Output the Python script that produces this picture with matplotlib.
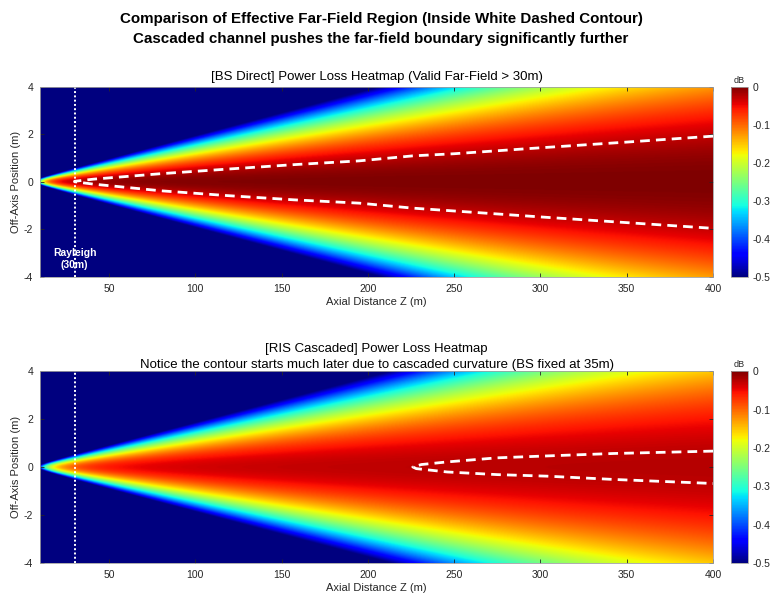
import matplotlib
matplotlib.use('Agg')
import matplotlib.pyplot as plt
import numpy as np
from matplotlib.ticker import FuncFormatter

plt.rcParams['font.family'] = ['Liberation Sans', 'DejaVu Sans']
plt.rcParams['axes.unicode_minus'] = False

# grid extent (m)
Z_MIN, Z_MAX = 10, 400
Y_MIN, Y_MAX = -4, 4
RAYLEIGH = 30
BS_DIST = 35

# beam-pattern loss in dB vs off-axis angle u = y/z: A2*u^2 + A4*u^4
A2 = 1250.0
A4 = 2.6e5
NEAR_COEF = 25.0   # dB*m^2, wavefront curvature loss ~ NEAR_COEF / d^2

# valid far-field boundaries (white dashed contours)
bs_contour_z = [30, 41, 80, 118, 157, 195, 226, 250, 300, 350, 400]
bs_contour_upper = [0.02, 0.11, 0.34, 0.53, 0.72, 0.88, 1.09, 1.18, 1.43, 1.67, 1.92]
bs_contour_lower = [0.0, -0.10, -0.38, -0.58, -0.76, -0.90, -1.11, -1.23, -1.48, -1.72, -1.96]

ris_upper_z = [226, 231, 246, 275, 304, 342, 400]
ris_contour_upper = [0.01, 0.11, 0.22, 0.39, 0.47, 0.57, 0.67]
ris_lower_z = [226, 228, 246, 275, 304, 342, 400]
ris_contour_lower = [0.01, -0.06, -0.20, -0.31, -0.375, -0.51, -0.68]


def power_loss(z, y, d_bs=None):
    u = np.abs(y) / z
    angular = A2 * u ** 2 + A4 * u ** 4
    if d_bs is None:
        d_eff = z
    else:
        # cascaded BS -> RIS -> user path behaves like a shorter effective distance
        d_eff = 1.0 / (1.0 / d_bs + 1.0 / z)
    near = NEAR_COEF / d_eff ** 2
    return -(angular + near)


z = np.linspace(Z_MIN, Z_MAX, 800)
y = np.linspace(Y_MIN, Y_MAX, 400)
Z, Y = np.meshgrid(z, y)
loss_bs = power_loss(Z, Y)
loss_ris = power_loss(Z, Y, d_bs=BS_DIST)

fig = plt.figure(figsize=(7.7, 5.94), dpi=100)
ax1 = fig.add_axes([0.052, 0.534, 0.874, 0.320])
ax2 = fig.add_axes([0.052, 0.052, 0.874, 0.323])
cax1 = fig.add_axes([0.949, 0.534, 0.022, 0.320])
cax2 = fig.add_axes([0.949, 0.052, 0.022, 0.323])

fig.text(0.495, 0.968, 'Comparison of Effective Far-Field Region (Inside White Dashed Contour)',
         ha='center', va='center', fontsize=10.9, fontweight='bold')
fig.text(0.495, 0.934, 'Cascaded channel pushes the far-field boundary significantly further',
         ha='center', va='center', fontsize=10.9, fontweight='bold')

tick_col = '#262626'
for ax, cax, field in [(ax1, cax1, loss_bs), (ax2, cax2, loss_ris)]:
    im = ax.imshow(field, extent=[Z_MIN, Z_MAX, Y_MIN, Y_MAX], origin='lower',
                   aspect='auto', cmap='jet', vmin=-0.5, vmax=0, interpolation='bilinear')
    ax.axvline(RAYLEIGH, color='white', linestyle=(0, (1, 1.2)), linewidth=1.4)
    ax.set_xlim(Z_MIN, Z_MAX)
    ax.set_ylim(Y_MIN, Y_MAX)
    ax.set_xticks(np.arange(50, 401, 50))
    ax.set_yticks([-4, -2, 0, 2, 4])
    ax.tick_params(direction='in', length=3, labelsize=7.5, colors=tick_col,
                   top=True, right=True, width=0.6)
    ax.tick_params(axis='x', pad=5)
    ax.tick_params(axis='y', pad=5)
    for s in ax.spines.values():
        s.set_color('#a0a0a0')
        s.set_linewidth(0.6)
    ax.set_xlabel('Axial Distance Z (m)', fontsize=8, color=tick_col, labelpad=2)
    ax.set_ylabel('Off-Axis Position (m)', fontsize=8, color=tick_col, labelpad=2)

    cb = fig.colorbar(im, cax=cax)
    cb.set_ticks([0, -0.1, -0.2, -0.3, -0.4, -0.5])
    cb.ax.yaxis.set_major_formatter(FuncFormatter(lambda v, p: '%g' % round(v, 2)))
    cb.ax.tick_params(direction='in', length=0, labelsize=7.5, colors=tick_col)
    cb.outline.set_edgecolor('#a0a0a0')
    cb.outline.set_linewidth(0.6)
    cax.set_title('dB', fontsize=6.5, color=tick_col, pad=3)

# dashed contours drawn as one path: upper branch back to the tip, then lower branch
dash = (0, (3.5, 2.2))
ax1.plot(bs_contour_z[::-1] + bs_contour_z, bs_contour_upper[::-1] + bs_contour_lower,
         color='white', linestyle=dash, linewidth=2)
ax2.plot(ris_upper_z[::-1] + ris_lower_z, ris_contour_upper[::-1] + ris_contour_lower,
         color='white', linestyle=dash, linewidth=2)

ax1.text(RAYLEIGH, -3.25, 'Rayleigh\n(30m)', color='white', fontsize=7.5,
         fontweight='bold', ha='center', va='center', linespacing=1.3)

ax1.set_title('[BS Direct] Power Loss Heatmap (Valid Far-Field > 30m)',
              fontsize=9.5, pad=5)
ax2.set_title('[RIS Cascaded] Power Loss Heatmap\n'
              'Notice the contour starts much later due to cascaded curvature (BS fixed at 35m)',
              fontsize=9.5, pad=2, linespacing=1.5)

fig.savefig('out.png', dpi=100)
